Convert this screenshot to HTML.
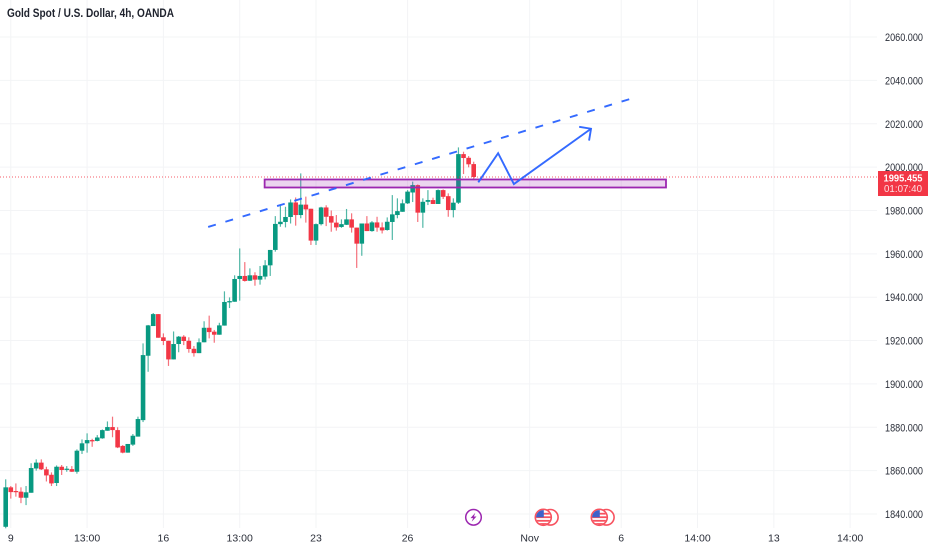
<!DOCTYPE html>
<html>
<head>
<meta charset="utf-8">
<title>Gold Spot / U.S. Dollar, 4h, OANDA</title>
<style>
html,body{margin:0;padding:0;background:#fff;width:932px;height:550px;overflow:hidden}
svg{display:block;font-family:"Liberation Sans",sans-serif}
</style>
</head>
<body>
<svg id="chart" width="932" height="550" viewBox="0 0 932 550" xmlns="http://www.w3.org/2000/svg">
<rect width="932" height="550" fill="#fff"/>
<g id="grid"></g>
<g id="candles"></g>
<g id="price-line-group"></g>
<g id="drawings"></g>
<g id="yaxis"></g>
<g id="xaxis"></g>
<text x="7" y="17" font-size="11.5" font-weight="700" fill="#1e222d" textLength="167" lengthAdjust="spacingAndGlyphs">Gold Spot / U.S. Dollar, 4h, OANDA</text>
<g>
<rect x="878" y="171" width="50" height="25" fill="#f23645"/>
<text id="badge-price" x="903" y="181.5" font-size="10.5" font-weight="700" fill="#fff" text-anchor="middle" textLength="39" lengthAdjust="spacingAndGlyphs"></text>
<text x="903" y="192" font-size="10.5" fill="#fde0e3" text-anchor="middle" textLength="38" lengthAdjust="spacingAndGlyphs">01:07:40</text>
</g>
<defs>
<clipPath id="flag-clip"><circle cx="0" cy="0" r="7.2"/></clipPath>
</defs>
<g transform="translate(473.5,517.3)">
<circle r="7.8" fill="#fff" stroke="#9c27b0" stroke-width="1.5"/>
<polygon points="1.8,-4.5 -3,0.8 -0.4,0.8 -1.8,4.5 3,-0.8 0.4,-0.8" fill="#9c27b0"/>
</g>
<g transform="translate(543.3,517.3)">
<circle cx="7" r="7.8" fill="#fff" stroke="#f7525f" stroke-width="1.6"/>
<circle r="8" fill="#fff" stroke="#f7525f" stroke-width="1.6"/>
<g clip-path="url(#flag-clip)">
<rect x="-8" y="-4.5" width="16" height="1.8" fill="#f7525f"/>
<rect x="-8" y="-1" width="16" height="1.8" fill="#f7525f"/>
<rect x="-8" y="2.6" width="16" height="1.8" fill="#f7525f"/>
<rect x="-8" y="5.8" width="16" height="2" fill="#f7525f"/>
<rect x="-8" y="-8" width="8.5" height="8" fill="#3d62c9"/>
</g>
</g>
<g transform="translate(599.3,517.3)">
<circle cx="7" r="7.8" fill="#fff" stroke="#f7525f" stroke-width="1.6"/>
<circle r="8" fill="#fff" stroke="#f7525f" stroke-width="1.6"/>
<g clip-path="url(#flag-clip)">
<rect x="-8" y="-4.5" width="16" height="1.8" fill="#f7525f"/>
<rect x="-8" y="-1" width="16" height="1.8" fill="#f7525f"/>
<rect x="-8" y="2.6" width="16" height="1.8" fill="#f7525f"/>
<rect x="-8" y="5.8" width="16" height="2" fill="#f7525f"/>
<rect x="-8" y="-8" width="8.5" height="8" fill="#3d62c9"/>
</g>
</g>
</svg>
<script>
const opens = [1834.1,1852.3,1850.6,1850.3,1847.5,1849.8,1861,1863.7,1860.6,1858.1,1854.3,1861.8,1860.6,1860.7,1859.5,1869.2,1872.6,1874.1,1873.7,1874.9,1878.4,1880.1,1878.7,1871.4,1868.3,1872,1875.7,1883.3,1913,1926.7,1932.2,1921.5,1919.9,1911.3,1918.4,1921.8,1919.9,1916.2,1914.2,1919.2,1925.9,1924.1,1922.7,1926.9,1937.6,1937.9,1948.4,1949.8,1947.6,1950.1,1948.1,1949.5,1954.7,1961.8,1973.7,1974.7,1977,1983.7,1977.9,1982.7,1980.8,1966.1,1973.7,1981.4,1977.4,1974.4,1972.4,1973.4,1975.9,1972.1,1964.7,1974,1970.5,1974.5,1972.2,1971,1974.7,1977.9,1979.4,1983.3,1988.3,1991.7,1979,1984,1984.8,1983,1989.4,1986.6,1980.2,1983.6,2006,2004.3,2001.4];
const highs = [1856,1852.9,1854.1,1852.3,1852.9,1863.4,1865.2,1865.2,1861.8,1859.2,1862.4,1862.6,1862.1,1862.1,1869.8,1874.4,1877.2,1874.7,1876.4,1879,1882.7,1884.9,1880,1871.8,1872.3,1876.9,1884.9,1918.7,1927.2,1932.7,1932.2,1923.3,1919.9,1924.2,1922.1,1922.5,1921.5,1917.5,1921,1928.9,1931.5,1924.9,1928.2,1942.7,1939.9,1950.1,1962.5,1956.2,1953.3,1951.5,1954.4,1957.1,1961.8,1977.4,1982.2,1981.7,1985.1,1986,1997.1,1986.4,1980.8,1974,1981.7,1982.4,1980,1977.9,1975.9,1980.7,1978.7,1972.1,1974,1977.4,1975.1,1977.1,1974.5,1976.8,1987.1,1985.6,1985.1,1989.4,1993.3,1992,1985.6,1989.4,1985.9,1989.7,1989.7,1987.9,1985.6,2009.1,2007.1,2005.1,2002.5];
const lows = [1833.4,1847.1,1848,1845,1844.1,1849.8,1860,1860.3,1855,1852.9,1852.9,1858,1859.5,1859.4,1858.6,1867.7,1868.3,1871,1873.5,1874.7,1878.4,1875.4,1870.4,1868,1868.3,1871.4,1875.7,1882.4,1905.6,1926.7,1921.3,1917.9,1908.3,1911.3,1914.6,1917.9,1914.4,1912.6,1914.2,1919.2,1921,1919,1922.7,1926.9,1935,1937.9,1938.4,1947.2,1947.5,1945.3,1945.8,1948.2,1949.8,1961,1972.5,1972.2,1974,1973,1976.4,1974.4,1964.1,1964.1,1973.1,1972.8,1970.2,1970.7,1972,1973.3,1969.8,1953.5,1959.1,1970.5,1970.2,1970.2,1969.4,1970.7,1966.4,1976.4,1979.4,1983,1983.9,1974.7,1972,1982.5,1983,1983,1985.3,1977.1,1976.8,1983,1996.8,1999.9,1994];
const closes = [1852.3,1850.1,1850.1,1847.5,1850,1861.2,1863.7,1860.6,1857.8,1854.1,1861.8,1860.3,1860.9,1859.5,1869.2,1872.6,1874.1,1873.5,1875.3,1878.7,1880.1,1878.7,1870.7,1868.3,1872.3,1876.1,1883.8,1913.3,1927,1932.2,1921.3,1919.8,1911.3,1918.4,1921.8,1919.8,1916.1,1914.2,1919.2,1925.9,1923.9,1922.7,1927,1937.8,1938.2,1948.4,1949.8,1947.5,1950.1,1948.1,1949.8,1954.7,1961.8,1973.8,1974.8,1977,1983.7,1977.9,1982.7,1980.5,1966.1,1973.7,1981.4,1977.1,1974.4,1972.2,1973.7,1975.9,1972.1,1964.7,1974,1970.5,1974.5,1972.1,1970.8,1974.8,1978.2,1979.7,1983.3,1988.7,1991.7,1979,1984,1984.8,1983,1989.4,1986.3,1980.2,1983.6,2006,2004.2,2001.3,1995.455];
const priceTicks = [2060,2040,2020,2000,1980,1960,1940,1920,1900,1880,1860,1840];
const timeTickLabels = ["9","13:00","16","13:00","23","26","Nov","6","14:00","13","14:00"];
const timeTickBars = [1,16,31,46,61,79,103,121,136,151,166];
const trendBars = [39.8,122.7];
const trendPrices = [1972.4,2031.4];
const zoneBars = [50.9,129.8];
const zonePrices = [1994.3,1990.6];
const projectionBars = [92.9,96.8,99.9,115.06];
const projectionPrices = [1993,2006.4,1992.2,2017.7];
const lastPrice = 1995.455;

const NS = "http://www.w3.org/2000/svg";
const xScale = i => 5.7 + 5.087 * i;
const yScale = p => 514 - (p - 1840) * 2.168;
const GREEN = "#089981", RED = "#f23645", BLUE = "#2962ff", PURPLE = "#9c27b0";

function make(tag, attrs, parent) {
  const el = document.createElementNS(NS, tag);
  for (const k in attrs) el.setAttribute(k, attrs[k]);
  parent.appendChild(el);
  return el;
}

const grid = document.getElementById("grid");
const yaxis = document.getElementById("yaxis");
const xaxis = document.getElementById("xaxis");
const candles = document.getElementById("candles");
const drawings = document.getElementById("drawings");
const priceGroup = document.getElementById("price-line-group");

priceTicks.forEach(p => {
  const y = yScale(p);
  const line = make("line", {x1: 0, x2: 877, y1: y, y2: y, stroke: "#f3f4f6", "stroke-width": 1}, grid);
  
  
  const label = make("text", {x: 885, y: y + 4, "font-size": 11, fill: "#2a2e39", textLength: 38, lengthAdjust: "spacingAndGlyphs"}, yaxis);
  label.textContent = p.toFixed(3);
  
  
});

timeTickBars.forEach((b, i) => {
  const x = xScale(b);
  const line = make("line", {x1: x, x2: x, y1: 0, y2: 528, stroke: "#f3f4f6", "stroke-width": 1}, grid);
  
  
  const label = make("text", {x: x, y: 541.5, "font-size": 10.5, fill: "#2a2e39", "text-anchor": "middle"}, xaxis);
  label.textContent = timeTickLabels[i];
  
  
});

closes.forEach((c, i) => {
  const o = opens[i], x = xScale(i), col = c >= o ? GREEN : RED;
  const g = make("g", {}, candles);
  
  
  const wick = make("line", {x1: x, x2: x, y1: yScale(highs[i]), y2: yScale(lows[i]), stroke: col, "stroke-width": 1.2, opacity: 0.7}, g);
  
  
  const top = yScale(Math.max(o, c)), bot = yScale(Math.min(o, c));
  const body = make("rect", {x: x - 2.3, y: top, width: 4.6, height: Math.max(bot - top, 1.2), fill: col}, g);
  
  
});

const priceLine = make("line", {x1: 0, x2: 878, y1: yScale(lastPrice), y2: yScale(lastPrice), stroke: RED, "stroke-width": 1, "stroke-dasharray": "1 2", opacity: 0.8}, priceGroup);


document.getElementById("badge-price").textContent = lastPrice.toFixed(3);

const zoneX = xScale(zoneBars[0]), zoneY = yScale(zonePrices[0]);
const zone = make("rect", {x: zoneX, y: zoneY, width: xScale(zoneBars[1]) - zoneX, height: yScale(zonePrices[1]) - zoneY, fill: PURPLE, "fill-opacity": 0.2, stroke: PURPLE, "stroke-width": 1.8}, drawings);



const trend = make("line", {x1: xScale(trendBars[0]), y1: yScale(trendPrices[0]), x2: xScale(trendBars[1]), y2: yScale(trendPrices[1]), stroke: BLUE, "stroke-width": 1.9, "stroke-dasharray": "8 10", "stroke-opacity": 0.95}, drawings);



const pts = projectionBars.map((b, i) => [xScale(b), yScale(projectionPrices[i])]);
const projection = make("polyline", {points: pts.map(p => p.join(",")).join(" "), fill: "none", stroke: BLUE, "stroke-width": 1.9, "stroke-opacity": 0.95}, drawings);



const tip = pts[pts.length - 1], prev = pts[pts.length - 2];
const ang = Math.atan2(tip[1] - prev[1], tip[0] - prev[0]);
const headLen = 12;
const hx = d => tip[0] + headLen * Math.cos(ang + d);
const hy = d => tip[1] + headLen * Math.sin(ang + d);
const head = make("polyline", {points: hx(Math.PI * 0.75) + "," + hy(Math.PI * 0.75) + " " + tip.join(",") + " " + hx(-Math.PI * 0.75) + "," + hy(-Math.PI * 0.75), fill: "none", stroke: BLUE, "stroke-width": 1.9, "stroke-opacity": 0.95}, drawings);


</script>
</body>
</html>
